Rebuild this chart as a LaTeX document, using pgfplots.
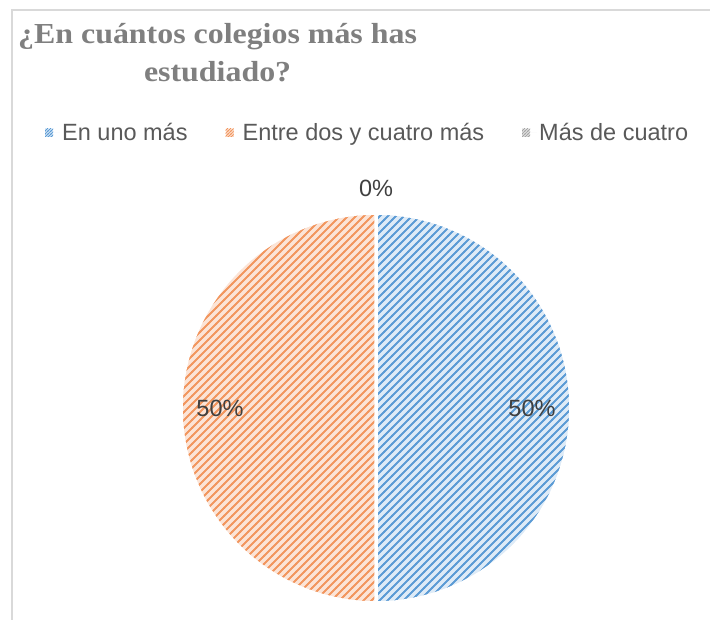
\documentclass[border=0pt]{standalone}
\usepackage{fontspec}
\setmainfont{Liberation Sans}
\newfontfamily\titlefont[FakeStretch=1.1]{Liberation Serif}
\usepackage{pgfplots}
\pgfplotsset{compat=1.18}
\usepackage{pgfplotstable}
\usetikzlibrary{patterns}

\definecolor{framegray}{HTML}{D9D9D9}
\definecolor{titlegray}{HTML}{7F7F7F}
\definecolor{legendgray}{HTML}{595959}
\definecolor{labelgray}{HTML}{404040}
\definecolor{blueline}{HTML}{5B9BD5}
\definecolor{bluebg}{HTML}{DEEBF7}
\definecolor{orangeline}{HTML}{F2965E}
\definecolor{orangebg}{HTML}{FCE4D6}
\definecolor{grayline}{HTML}{A5A5A5}
\definecolor{graybg}{HTML}{E7E7E7}

% rayado diagonal ancho (tipo Excel)
\pgfdeclarepatternformonly{wideup}{\pgfqpoint{-1bp}{-1bp}}{\pgfqpoint{9bp}{9bp}}{\pgfqpoint{8bp}{8bp}}{
  \pgfsetlinewidth{1.7bp}
  \pgfpathmoveto{\pgfqpoint{-0.5bp}{-0.5bp}}
  \pgfpathlineto{\pgfqpoint{8.5bp}{8.5bp}}
  \pgfusepath{stroke}}
\pgfdeclarepatternformonly{smallup}{\pgfqpoint{-1bp}{-1bp}}{\pgfqpoint{4bp}{4bp}}{\pgfqpoint{3bp}{3bp}}{
  \pgfsetlinewidth{1bp}
  \pgfpathmoveto{\pgfqpoint{-0.5bp}{-0.5bp}}
  \pgfpathlineto{\pgfqpoint{3.5bp}{3.5bp}}
  \pgfusepath{stroke}}

% porcentaje de respuestas
\pgfplotstableread[col sep=comma]{
label,value
En uno más,50
Entre dos y cuatro más,50
Más de cuatro,0
}\piedata

\pgfplotstablegetelem{0}{value}\of\piedata \edef\vA{\pgfplotsretval}
\pgfplotstablegetelem{1}{value}\of\piedata \edef\vB{\pgfplotsretval}
\pgfplotstablegetelem{2}{value}\of\piedata \edef\vC{\pgfplotsretval}
\pgfplotstablegetelem{0}{label}\of\piedata \edef\lA{\pgfplotsretval}
\pgfplotstablegetelem{1}{label}\of\piedata \edef\lB{\pgfplotsretval}
\pgfplotstablegetelem{2}{label}\of\piedata \edef\lC{\pgfplotsretval}

% centro y radio del pastel (en px de la imagen)
\def\cx{376}\def\cy{212}\def\rr{195}
% angulos: empieza arriba y gira en sentido horario
\pgfmathsetmacro\sA{90}
\pgfmathsetmacro\eA{\sA-3.6*\vA}
\pgfmathsetmacro\eB{\eA-3.6*\vB}
\pgfmathsetmacro\eC{\eB-3.6*\vC}
\pgfmathsetmacro\mA{(\sA+\eA)/2}
\pgfmathsetmacro\mB{(\eA+\eB)/2}
\pgfmathsetmacro\mC{(\eB+\eC)/2}
\pgfmathsetmacro\rA{ifthenelse(\vA>0,0.8*\rr,\rr+25)}
\pgfmathsetmacro\rB{ifthenelse(\vB>0,0.8*\rr,\rr+25)}
\pgfmathsetmacro\rC{ifthenelse(\vC>0,0.8*\rr,\rr+25)}

\tikzset{
  slice/.style n args={2}{draw=none, preaction={fill=#2}, pattern=wideup, pattern color=#1,
    postaction={draw=white, line width=3.5bp, line join=round}},
  mini/.style n args={2}{draw=none, preaction={fill=#2}, pattern=smallup, pattern color=#1},
  plabel/.style={font=\fontsize{23.5bp}{28bp}\selectfont, text=labelgray, inner sep=0pt},
}

\begin{document}
\begin{tikzpicture}
\path[use as bounding box] (0,0) rectangle (710bp,620bp);
\begin{axis}[
  at={(0,0)}, anchor=south west,
  width=710bp, height=620bp, scale only axis,
  xmin=0, xmax=710, ymin=0, ymax=620,
  hide axis, clip=false,
  legend image code/.code={\path[#1] (0bp,-4bp) rectangle (8bp,4bp);
    \path[draw=none, fill=none] (0bp,0bp) -- (15bp,0bp);},
  legend style={draw=none, fill=none, at={(axis cs:45,487)}, anchor=west,
    legend columns=3, font=\fontsize{23.5bp}{28bp}\selectfont,
    text=legendgray, inner sep=0pt,
    /tikz/every even column/.append style={column sep=36bp}},
]
% marco
\draw[framegray, line width=2bp] (axis cs:12,0) -- (axis cs:12,610) -- (axis cs:710,610);

% porciones
\addplot[slice={blueline}{bluebg}, forget plot, domain=\eA:\sA, samples=181, variable=\t]
  ({\cx+\rr*cos(\t)},{\cy+\rr*sin(\t)}) -- (axis cs:\cx,\cy) -- cycle;
\addplot[slice={orangeline}{orangebg}, forget plot, domain=\eB:\eA, samples=181, variable=\t]
  ({\cx+\rr*cos(\t)},{\cy+\rr*sin(\t)}) -- (axis cs:\cx,\cy) -- cycle;

\addlegendimage{mini={blueline}{bluebg}}
\addlegendentry{\lA}
\addlegendimage{mini={orangeline}{orangebg}}
\addlegendentry{\lB}
\addlegendimage{mini={grayline}{graybg}}
\addlegendentry{\lC}

% etiquetas
\node[plabel] at (axis cs:{\cx+\rA*cos(\mA)},{\cy+\rA*sin(\mA)}) {\vA\%};
\node[plabel] at (axis cs:{\cx+\rB*cos(\mB)},{\cy+\rB*sin(\mB)}) {\vB\%};
\node[plabel] at (axis cs:{\cx+\rC*cos(\mC)},{\cy+\rC*sin(\mC)}) {\vC\%};

% titulo
\node[anchor=north west, align=center, inner sep=0pt, text=titlegray,
  font=\titlefont\bfseries\fontsize{29bp}{38bp}\selectfont]
  at (axis cs:18,597) {¿En cuántos colegios más has\\estudiado?};
\end{axis}
\end{tikzpicture}
\end{document}
